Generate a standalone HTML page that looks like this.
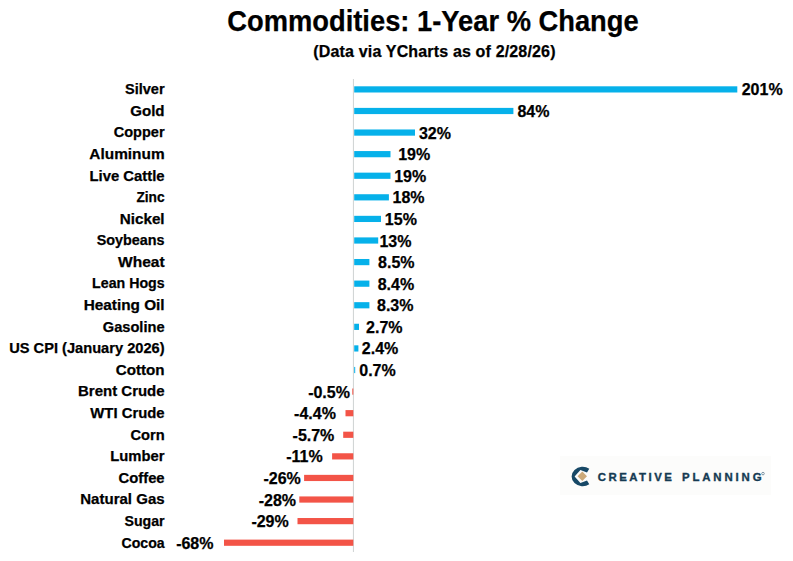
<!DOCTYPE html>
<html><head><meta charset="utf-8">
<style>
html,body{margin:0;padding:0;background:#fff;}
body{width:793px;height:561px;overflow:hidden;position:relative;font-family:"Liberation Sans",sans-serif;}
svg{position:absolute;left:0;top:0;}
text{font-family:"Liberation Sans",sans-serif;font-weight:bold;fill:#000;stroke:#000;stroke-width:0.25px;}
.cat{font-size:14.6px;}
.pct{font-size:16px;}
.title{font-size:29.5px;}
.sub{font-size:16px;letter-spacing:0.16px;}
.logo{font-size:11.4px;fill:#153a52;stroke:#153a52;stroke-width:0.35px;}
</style></head>
<body>
<svg width="793" height="561" viewBox="0 0 793 561">
<text class="title" x="433" y="30.5" text-anchor="middle" textLength="411.4" lengthAdjust="spacingAndGlyphs">Commodities: 1-Year % Change</text>
<text class="sub" x="434.5" y="56.7" text-anchor="middle">(Data via YCharts as of 2/28/26)</text>
<rect x="560" y="456" width="211" height="39" fill="#fcfcfb"/>
<rect x="352.9" y="79" width="1.1" height="473" fill="#d2d6d6"/>
<rect x="354.20" y="86.30" width="383.10" height="6.2" fill="#06B1EA"/>
<text class="cat" x="164.6" y="94.20" text-anchor="end" textLength="39.66" lengthAdjust="spacingAndGlyphs">Silver</text>
<text class="pct" x="741.7" y="95.40">201%</text>
<rect x="354.20" y="107.89" width="159.20" height="6.2" fill="#06B1EA"/>
<text class="cat" x="164.6" y="115.79" text-anchor="end" textLength="34.39" lengthAdjust="spacingAndGlyphs">Gold</text>
<text class="pct" x="517.4" y="116.99">84%</text>
<rect x="354.20" y="129.47" width="60.80" height="6.2" fill="#06B1EA"/>
<text class="cat" x="164.6" y="137.37" text-anchor="end" textLength="50.88" lengthAdjust="spacingAndGlyphs">Copper</text>
<text class="pct" x="418.95" y="138.57">32%</text>
<rect x="354.20" y="151.06" width="36.30" height="6.2" fill="#06B1EA"/>
<text class="cat" x="164.6" y="158.96" text-anchor="end" textLength="75.23" lengthAdjust="spacingAndGlyphs">Aluminum</text>
<text class="pct" x="398.15" y="160.16">19%</text>
<rect x="354.20" y="172.64" width="36.30" height="6.2" fill="#06B1EA"/>
<text class="cat" x="164.6" y="180.54" text-anchor="end" textLength="75.13" lengthAdjust="spacingAndGlyphs">Live Cattle</text>
<text class="pct" x="394.15" y="181.74">19%</text>
<rect x="354.20" y="194.23" width="34.70" height="6.2" fill="#06B1EA"/>
<text class="cat" x="164.6" y="202.13" text-anchor="end" textLength="28.2" lengthAdjust="spacingAndGlyphs">Zinc</text>
<text class="pct" x="392.5" y="203.33">18%</text>
<rect x="354.20" y="215.82" width="26.80" height="6.2" fill="#06B1EA"/>
<text class="cat" x="164.6" y="223.72" text-anchor="end" textLength="44.89" lengthAdjust="spacingAndGlyphs">Nickel</text>
<text class="pct" x="384.85" y="224.92">15%</text>
<rect x="354.20" y="237.40" width="24.00" height="6.2" fill="#06B1EA"/>
<text class="cat" x="164.6" y="245.30" text-anchor="end" textLength="67.95" lengthAdjust="spacingAndGlyphs">Soybeans</text>
<text class="pct" x="379.4" y="246.50">13%</text>
<rect x="354.20" y="258.99" width="15.20" height="6.2" fill="#06B1EA"/>
<text class="cat" x="164.6" y="266.89" text-anchor="end" textLength="46.57" lengthAdjust="spacingAndGlyphs">Wheat</text>
<text class="pct" x="378.1" y="268.09">8.5%</text>
<rect x="354.20" y="280.57" width="15.20" height="6.2" fill="#06B1EA"/>
<text class="cat" x="164.6" y="288.47" text-anchor="end" textLength="72.49" lengthAdjust="spacingAndGlyphs">Lean Hogs</text>
<text class="pct" x="377.65" y="289.67">8.4%</text>
<rect x="354.20" y="302.16" width="15.20" height="6.2" fill="#06B1EA"/>
<text class="cat" x="164.6" y="310.06" text-anchor="end" textLength="80.93" lengthAdjust="spacingAndGlyphs">Heating Oil</text>
<text class="pct" x="377.0" y="311.26">8.3%</text>
<rect x="354.20" y="323.75" width="4.80" height="6.2" fill="#06B1EA"/>
<text class="cat" x="164.6" y="331.65" text-anchor="end" textLength="61.84" lengthAdjust="spacingAndGlyphs">Gasoline</text>
<text class="pct" x="366.05" y="332.85">2.7%</text>
<rect x="354.20" y="345.33" width="4.20" height="6.2" fill="#06B1EA"/>
<text class="cat" x="164.6" y="353.23" text-anchor="end" textLength="155.44" lengthAdjust="spacingAndGlyphs">US CPI (January 2026)</text>
<text class="pct" x="361.8" y="354.43">2.4%</text>
<rect x="354.20" y="366.92" width="1.00" height="6.2" fill="#06B1EA"/>
<text class="cat" x="164.6" y="374.82" text-anchor="end" textLength="48.86" lengthAdjust="spacingAndGlyphs">Cotton</text>
<text class="pct" x="359.25" y="376.02">0.7%</text>
<rect x="352.30" y="388.50" width="1.00" height="6.2" fill="#F35447"/>
<text class="cat" x="164.6" y="396.40" text-anchor="end" textLength="86.56" lengthAdjust="spacingAndGlyphs">Brent Crude</text>
<text class="pct" x="349.95" y="397.60" text-anchor="end">-0.5%</text>
<rect x="345.50" y="410.09" width="7.80" height="6.2" fill="#F35447"/>
<text class="cat" x="164.6" y="417.99" text-anchor="end" textLength="74.27" lengthAdjust="spacingAndGlyphs">WTI Crude</text>
<text class="pct" x="335.9" y="419.19" text-anchor="end">-4.4%</text>
<rect x="343.20" y="431.68" width="10.10" height="6.2" fill="#F35447"/>
<text class="cat" x="164.6" y="439.58" text-anchor="end" textLength="34.17" lengthAdjust="spacingAndGlyphs">Corn</text>
<text class="pct" x="334.35" y="440.78" text-anchor="end">-5.7%</text>
<rect x="332.10" y="453.26" width="21.20" height="6.2" fill="#F35447"/>
<text class="cat" x="164.6" y="461.16" text-anchor="end" textLength="54.32" lengthAdjust="spacingAndGlyphs">Lumber</text>
<text class="pct" x="322.7" y="462.36" text-anchor="end">-11%</text>
<rect x="304.10" y="474.85" width="49.20" height="6.2" fill="#F35447"/>
<text class="cat" x="164.6" y="482.75" text-anchor="end" textLength="46.01" lengthAdjust="spacingAndGlyphs">Coffee</text>
<text class="pct" x="300.8" y="483.95" text-anchor="end">-26%</text>
<rect x="299.30" y="496.43" width="54.00" height="6.2" fill="#F35447"/>
<text class="cat" x="164.6" y="504.33" text-anchor="end" textLength="84.35" lengthAdjust="spacingAndGlyphs">Natural Gas</text>
<text class="pct" x="296.05" y="505.53" text-anchor="end">-28%</text>
<rect x="297.50" y="518.02" width="55.80" height="6.2" fill="#F35447"/>
<text class="cat" x="164.6" y="525.92" text-anchor="end" textLength="40.15" lengthAdjust="spacingAndGlyphs">Sugar</text>
<text class="pct" x="288.75" y="527.12" text-anchor="end">-29%</text>
<rect x="224.00" y="539.61" width="129.30" height="6.2" fill="#F35447"/>
<text class="cat" x="164.6" y="547.51" text-anchor="end" textLength="43.09" lengthAdjust="spacingAndGlyphs">Cocoa</text>
<text class="pct" x="213.5" y="548.71" text-anchor="end">-68%</text>
<g>
<path d="M589.3 468.8 A11 9.7 0 1 0 589.3 484.2 L587.0 480.6 L580.4 482.9 L574.6 476.5 L580.4 470.1 L587.0 472.4 Z" fill="#174866"/>
<path d="M582.3 471.5 L587 476.2 L582.3 480.9 L577.6 476.2 Z" fill="#cca979"/>
</g>
<text class="logo" transform="matrix(1 0 0 1 597.8 480.7)" x="0" y="0" textLength="74" lengthAdjust="spacing">CREATIVE</text>
<text class="logo" transform="matrix(1 0 0 1 682 480.7)" x="0" y="0" textLength="79.5" lengthAdjust="spacing">PLANNING</text>
<circle cx="763" cy="473.6" r="1.3" fill="none" stroke="#173f5a" stroke-width="0.5"/>
</svg>
</body></html>
